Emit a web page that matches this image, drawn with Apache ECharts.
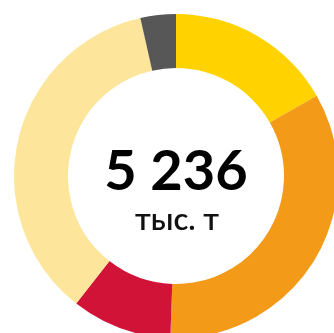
<!DOCTYPE html>
<html>
<head>
<meta charset="utf-8">
<script src="https://cdn.jsdelivr.net/npm/echarts@6/dist/echarts.min.js"></script>
<style>
  html, body { margin: 0; padding: 0; background: #fff; }
  #chart { width: 334px; height: 333px; }
</style>
</head>
<body>
<div id="chart"></div>
<script>
// Segment names and volumes, thousand tonnes (clockwise from the top)
const segments = ['Сегмент 1', 'Сегмент 2', 'Сегмент 3', 'Сегмент 4', 'Сегмент 5'];
const volumes = [877, 1770, 524, 1880, 185];
const colors = ['#FFD200', '#F39A19', '#D01337', '#FDE69B', '#575757'];
const totalLabel = '5 236';
const unitLabel = 'тыс. т';

const cx = 176, cy = 176;

const chart = echarts.init(document.getElementById('chart'), null, { renderer: 'canvas' });
chart.setOption({
  animation: false,
  series: [{
    type: 'pie',
    center: [cx, cy],
    radius: [108, 162],
    startAngle: 90,
    clockwise: true,
    silent: true,
    label: { show: false },
    labelLine: { show: false },
    itemStyle: { borderWidth: 0 },
    data: segments.map((name, i) => ({
      name: name,
      value: volumes[i],
      itemStyle: { color: colors[i] }
    }))
  }],
  graphic: [
    {
      type: 'text',
      x: cx,
      y: 172,
      style: {
        text: totalLabel,
        align: 'center',
        verticalAlign: 'middle',
        fill: '#000',
        font: 'bold 56px Lato, "Noto Sans", sans-serif'
      }
    },
    {
      type: 'text',
      x: cx + 1,
      y: 220,
      style: {
        text: unitLabel,
        align: 'center',
        verticalAlign: 'middle',
        fill: '#111',
        font: '600 31px Lato, "Noto Sans", sans-serif'
      }
    }
  ]
});
</script>
</body>
</html>
